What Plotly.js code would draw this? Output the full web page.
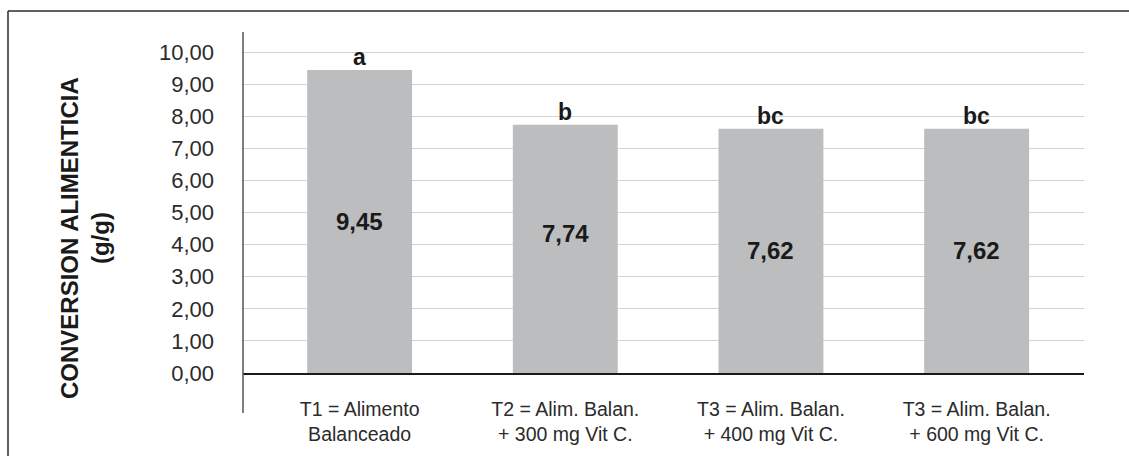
<!DOCTYPE html>
<html>
<head>
<meta charset="utf-8">
<script src="https://cdn.plot.ly/plotly-3.0.1.min.js"></script>
<style>
  html, body { margin: 0; padding: 0; background: #ffffff; }
  #chart { width: 1129px; height: 456px; }
</style>
</head>
<body>
<div id="chart"></div>
<script>
// Tratamientos y conversión alimenticia (g/g)
const categories = [
  "T1 = Alimento<br>Balanceado",
  "T2 = Alim. Balan.<br>+ 300 mg Vit C.",
  "T3 = Alim. Balan.<br>+ 400 mg Vit C.",
  "T3 = Alim. Balan.<br>+ 600 mg Vit C."
];
const conversion = [9.45, 7.74, 7.62, 7.62];
const valueLabels = ["9,45", "7,74", "7,62", "7,62"];
const groupLetters = ["a", "b", "bc", "bc"];
const yTicks = [0, 1, 2, 3, 4, 5, 6, 7, 8, 9, 10];

// plot frame in pixels
const W = 1129, H = 456;
const L = 243, R = 1084, T = 32, B = 373;
const pw = R - L, ph = B - T;
const px = x => (x - L) / pw;
const py = y => (B - y) / ph;

const idx = categories.map((_, i) => i);

const font = "'Liberation Sans', Arial, Helvetica, sans-serif";

const trace = {
  type: "bar",
  x: idx,
  y: conversion,
  width: 0.51,
  marker: { color: "#bcbdbf", line: { width: 0 } },
  hoverinfo: "skip"
};

const annotations = [];
idx.forEach(i => {
  // value label in the middle of the bar
  annotations.push({
    x: i, y: conversion[i] / 2, xref: "x", yref: "y",
    text: "<b>" + valueLabels[i] + "</b>",
    showarrow: false,
    yshift: i === 1 ? 15 : 0,
    font: { family: font, size: 24, color: "#1a1a1a" }
  });
  // significance letter above the bar
  annotations.push({
    x: i, y: conversion[i], xref: "x", yref: "y",
    text: "<b>" + groupLetters[i] + "</b>",
    showarrow: false, yanchor: "bottom", yshift: -2,
    font: { family: font, size: 23, color: "#1a1a1a" }
  });
});

// y-axis title
annotations.push({
  x: px(85), y: py(238), xref: "paper", yref: "paper",
  text: "<b>CONVERSION ALIMENTICIA</b><br><b>(g/g)</b>",
  textangle: -90, showarrow: false,
  xanchor: "center", yanchor: "middle", align: "center",
  font: { family: font, size: 24, color: "#1a1a1a" }
});

const shapes = [
  // outer frame: left and top edges
  { type: "line", xref: "paper", yref: "paper",
    x0: px(8), x1: px(8), y0: py(H + 10), y1: py(11),
    line: { color: "#2b2b2b", width: 1.5 } },
  { type: "line", xref: "paper", yref: "paper",
    x0: px(8), x1: px(W + 10), y0: py(11), y1: py(11),
    line: { color: "#2b2b2b", width: 1.5 } },
  // vertical axis line, running down through the category labels
  { type: "line", xref: "paper", yref: "paper",
    x0: 0, x1: 0, y0: py(413), y1: 1,
    line: { color: "#555555", width: 1.5 } }
];

const layout = {
  width: W, height: H,
  margin: { l: L, r: W - R, t: T, b: H - B, pad: 0 },
  paper_bgcolor: "#ffffff",
  plot_bgcolor: "#ffffff",
  separators: ",.",
  showlegend: false,
  xaxis: {
    type: "linear",
    range: [-0.567, 3.522],
    tickvals: idx,
    ticktext: categories,
    showgrid: false, zeroline: false,
    showline: true, linecolor: "#1a1a1a", linewidth: 1.5,
    ticks: "", ticklabelstandoff: 18,
    tickfont: { family: font, size: 19.5, color: "#2b2b2b" },
    fixedrange: true
  },
  yaxis: {
    range: [0, (B - T) / 32.07],
    tickvals: yTicks,
    tickformat: ".2f",
    showgrid: true, gridcolor: "#d3d3d3", gridwidth: 1,
    zeroline: false, showline: false,
    ticks: "", ticklabelstandoff: 28,
    tickfont: { family: font, size: 22, color: "#2b2b2b" },
    fixedrange: true
  },
  annotations: annotations,
  shapes: shapes
};

Plotly.newPlot("chart", [trace], layout, { displayModeBar: false, staticPlot: true });
</script>
</body>
</html>
